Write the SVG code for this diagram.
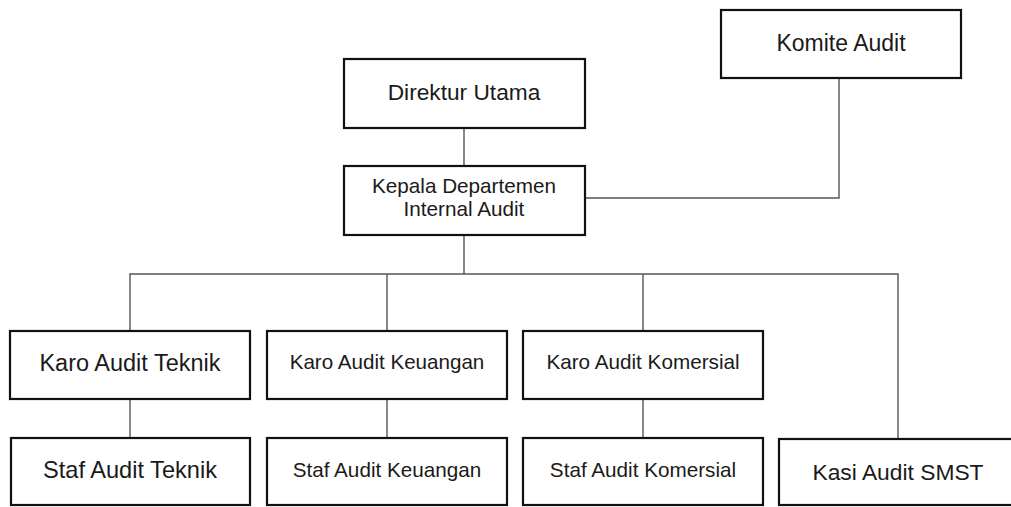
<svg xmlns="http://www.w3.org/2000/svg" width="1011" height="507" viewBox="0 0 1011 507">
<style>
.box{fill:#fff;stroke:#111;stroke-width:2.2}
.t{font-family:"Liberation Sans",Arial,sans-serif;fill:#1a1a1a;text-anchor:middle}
.conn line,.conn polyline{stroke:#555;stroke-width:1.4;fill:none}
</style>
<rect width="1011" height="507" fill="#fff"/>
<g class="conn" id="connectors">
<line x1="464" y1="128" x2="464" y2="166"/>
<polyline points="585,198 839,198 839,78"/>
<line x1="464" y1="235" x2="464" y2="274"/>
<polyline points="130,331 130,274 898,274 898,439"/>
<line x1="387" y1="274" x2="387" y2="331"/>
<line x1="643" y1="274" x2="643" y2="331"/>
<line x1="130" y1="399" x2="130" y2="438"/>
<line x1="387" y1="399" x2="387" y2="438"/>
<line x1="643" y1="399" x2="643" y2="438"/>
</g>
<g id="komite"><rect class="box" x="721" y="10" width="240" height="68"/><text class="t" x="841" y="51" font-size="23">Komite Audit</text></g>
<g id="direktur"><rect class="box" x="344" y="59" width="241" height="69"/><text class="t" x="464" y="100" font-size="22.7">Direktur Utama</text></g>
<g id="kepala"><rect class="box" x="344" y="166" width="241" height="69"/><text class="t" x="464" y="193" font-size="20.7">Kepala Departemen</text><text class="t" x="464" y="216" font-size="20.7">Internal Audit</text></g>
<g id="karo-teknik"><rect class="box" x="10" y="331" width="240" height="68"/><text class="t" x="130" y="371" font-size="23.5">Karo Audit Teknik</text></g>
<g id="karo-keuangan"><rect class="box" x="267" y="331" width="240" height="68"/><text class="t" x="387" y="369" font-size="20.6">Karo Audit Keuangan</text></g>
<g id="karo-komersial"><rect class="box" x="523" y="331" width="240" height="68"/><text class="t" x="643" y="369" font-size="20.7">Karo Audit Komersial</text></g>
<g id="staf-teknik"><rect class="box" x="11" y="438" width="239" height="67"/><text class="t" x="130" y="478" font-size="23.6">Staf Audit Teknik</text></g>
<g id="staf-keuangan"><rect class="box" x="267" y="438" width="240" height="67"/><text class="t" x="387" y="477" font-size="20.7">Staf Audit Keuangan</text></g>
<g id="staf-komersial"><rect class="box" x="523" y="438" width="240" height="67"/><text class="t" x="643" y="477" font-size="20.7">Staf Audit Komersial</text></g>
<g id="kasi-smst"><rect class="box" x="779" y="439" width="238" height="66"/><text class="t" x="898" y="480" font-size="22.8">Kasi Audit SMST</text></g>
</svg>
